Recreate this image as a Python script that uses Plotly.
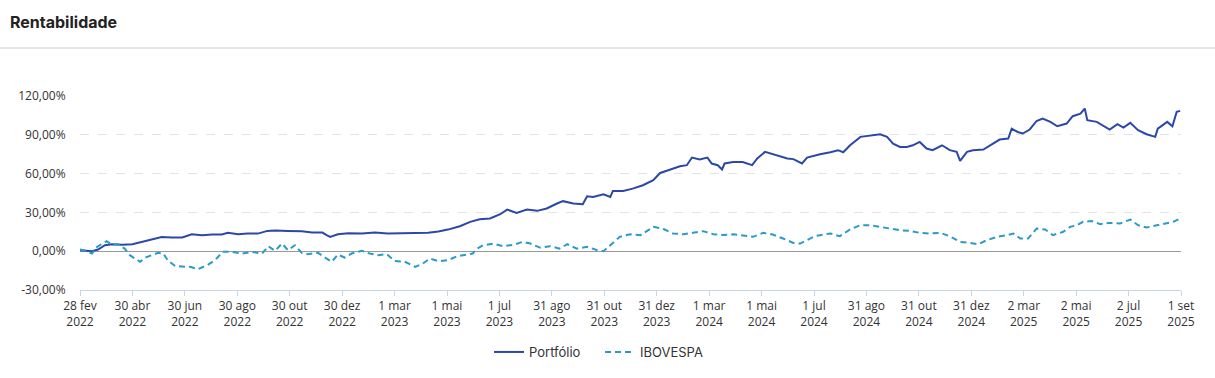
import plotly.graph_objects as go

# ---------------- data ----------------
portfolio_dates = [
    "2022-02-28", "2022-03-06", "2022-03-14", "2022-03-21", "2022-03-29", "2022-04-06", "2022-04-18", "2022-04-30",
    "2022-05-11", "2022-05-23", "2022-06-03", "2022-06-15", "2022-06-27", "2022-07-08", "2022-07-20", "2022-08-01",
    "2022-08-12", "2022-08-19", "2022-08-31", "2022-09-11", "2022-09-23", "2022-10-04", "2022-10-13", "2022-10-28",
    "2022-11-13", "2022-11-25", "2022-12-07", "2022-12-12", "2022-12-16", "2022-12-25", "2023-01-06", "2023-01-22",
    "2023-02-06", "2023-02-21", "2023-03-10", "2023-03-25", "2023-04-09", "2023-04-21", "2023-05-02", "2023-05-16",
    "2023-05-28", "2023-06-08", "2023-06-20", "2023-07-02", "2023-07-10", "2023-07-21", "2023-08-02", "2023-08-14",
    "2023-08-25", "2023-09-06", "2023-09-13", "2023-09-25", "2023-10-06", "2023-10-11", "2023-10-18", "2023-10-30",
    "2023-11-07", "2023-11-10", "2023-11-22", "2023-12-03", "2023-12-15", "2023-12-27", "2024-01-04", "2024-01-16",
    "2024-01-27", "2024-02-04", "2024-02-10", "2024-02-19", "2024-02-28", "2024-03-04", "2024-03-11", "2024-03-16",
    "2024-03-19", "2024-03-29", "2024-04-09", "2024-04-20", "2024-04-26", "2024-05-05", "2024-05-11", "2024-05-19",
    "2024-05-31", "2024-06-07", "2024-06-17", "2024-06-23", "2024-07-02", "2024-07-08", "2024-07-20", "2024-07-29",
    "2024-08-04", "2024-08-12", "2024-08-24", "2024-09-04", "2024-09-16", "2024-09-24", "2024-10-01", "2024-10-09",
    "2024-10-17", "2024-10-24", "2024-11-01", "2024-11-09", "2024-11-16", "2024-11-27", "2024-12-06", "2024-12-14",
    "2024-12-18", "2024-12-26", "2025-01-02", "2025-01-14", "2025-01-24", "2025-02-02", "2025-02-12", "2025-02-16",
    "2025-02-23", "2025-03-01", "2025-03-09", "2025-03-17", "2025-03-24", "2025-04-02", "2025-04-10", "2025-04-21",
    "2025-04-28", "2025-05-07", "2025-05-12", "2025-05-15", "2025-05-26", "2025-06-02", "2025-06-10", "2025-06-19",
    "2025-06-26", "2025-07-04", "2025-07-13", "2025-07-23", "2025-08-02", "2025-08-05", "2025-08-16", "2025-08-22",
    "2025-08-27", "2025-08-31",
]
portfolio_values = [
    0.8, 0.5, 0.0, 1.3, 4.6, 5.4, 5.0, 5.4,
    7.2, 9.0, 11.0, 10.6, 10.6, 13.1, 12.4, 12.9,
    12.9, 14.2, 13.1, 13.6, 13.6, 15.7, 16.0, 15.7,
    15.4, 14.4, 14.4, 12.4, 11.0, 13.1, 13.9, 13.6,
    14.4, 13.6, 13.9, 13.6, 14.2, 15.2, 16.7, 19.3,
    22.7, 24.7, 25.3, 28.6, 32.2, 29.6, 32.2, 31.2,
    33.0, 36.9, 38.7, 36.9, 36.3, 42.5, 42.0, 44.0,
    42.0, 46.6, 46.6, 48.4, 51.0, 54.9, 60.5, 63.2,
    65.7, 66.5, 72.4, 70.9, 72.4, 67.8, 66.5, 63.2,
    67.8, 69.0, 69.0, 66.5, 71.7, 76.8, 75.5, 74.2,
    71.7, 71.2, 67.8, 72.4, 74.2, 75.0, 76.5, 78.1,
    76.5, 81.9, 88.4, 89.1, 90.4, 88.4, 83.2, 80.6,
    80.6, 81.9, 84.5, 79.4, 78.1, 81.9, 78.1, 76.8,
    69.8, 76.8, 78.1, 78.6, 82.7, 86.3, 87.1, 94.8,
    92.2, 91.0, 94.1, 100.7, 102.6, 100.0, 96.6, 98.7,
    104.4, 106.4, 110.3, 101.3, 100.0, 97.4, 94.1, 98.2,
    95.6, 99.2, 93.5, 90.4, 88.4, 94.8, 100.0, 96.6,
    107.7, 108.5,
]

ibov_dates = [
    "2022-02-28", "2022-03-06", "2022-03-14", "2022-03-20", "2022-03-26", "2022-03-31", "2022-04-06", "2022-04-13",
    "2022-04-21", "2022-04-27", "2022-05-03", "2022-05-09", "2022-05-15", "2022-05-23", "2022-05-30", "2022-06-05",
    "2022-06-10", "2022-06-19", "2022-06-27", "2022-07-06", "2022-07-15", "2022-07-26", "2022-08-04", "2022-08-13",
    "2022-08-24", "2022-09-05", "2022-09-16", "2022-09-28", "2022-10-05", "2022-10-13", "2022-10-21", "2022-10-28",
    "2022-11-05", "2022-11-13", "2022-11-20", "2022-12-02", "2022-12-12", "2022-12-18", "2022-12-25", "2023-01-02",
    "2023-01-10", "2023-01-22", "2023-01-31", "2023-02-10", "2023-02-20", "2023-03-01", "2023-03-13", "2023-03-25",
    "2023-04-03", "2023-04-11", "2023-04-21", "2023-05-02", "2023-05-13", "2023-05-24", "2023-05-31", "2023-06-05",
    "2023-06-12", "2023-06-24", "2023-07-05", "2023-07-17", "2023-07-28", "2023-08-06", "2023-08-17", "2023-08-29",
    "2023-09-09", "2023-09-18", "2023-09-29", "2023-10-11", "2023-10-23", "2023-10-30", "2023-11-07", "2023-11-18",
    "2023-11-30", "2023-12-12", "2023-12-27", "2024-01-07", "2024-01-19", "2024-01-31", "2024-02-11", "2024-02-23",
    "2024-03-06", "2024-03-17", "2024-03-29", "2024-04-09", "2024-04-21", "2024-05-03", "2024-05-14", "2024-05-26",
    "2024-06-07", "2024-06-15", "2024-06-23", "2024-07-02", "2024-07-08", "2024-07-20", "2024-07-31", "2024-08-12",
    "2024-08-24", "2024-09-04", "2024-09-16", "2024-09-27", "2024-10-09", "2024-10-21", "2024-11-01", "2024-11-13",
    "2024-11-25", "2024-12-06", "2024-12-18", "2024-12-30", "2025-01-08", "2025-01-18", "2025-01-30", "2025-02-11",
    "2025-02-18", "2025-02-26", "2025-03-07", "2025-03-17", "2025-03-27", "2025-04-05", "2025-04-17", "2025-04-25",
    "2025-05-03", "2025-05-10", "2025-05-20", "2025-05-30", "2025-06-10", "2025-06-22", "2025-07-04", "2025-07-13",
    "2025-07-23", "2025-08-04", "2025-08-16", "2025-08-23", "2025-08-31",
]
ibov_values = [
    1.3, 0.3, -1.8, 3.4, 5.9, 7.7, 5.2, 5.4,
    2.0, -3.1, -5.7, -8.2, -4.9, -3.1, -1.3, -1.8,
    -7.0, -11.6, -12.1, -12.1, -13.9, -10.8, -7.0, -0.5,
    -0.5, -1.8, -0.5, -1.8, 3.9, 0.3, 5.9, 0.8,
    4.6, -1.3, -2.3, -1.3, -5.7, -8.2, -2.6, -4.9,
    -1.8, 0.3, -1.8, -3.1, -2.3, -7.5, -8.2, -12.1,
    -9.5, -5.7, -7.7, -7.0, -3.9, -2.6, -1.8, 2.0,
    4.6, 5.9, 3.9, 4.9, 7.2, 5.9, 2.8, 3.9,
    2.0, 5.4, 2.0, 3.4, 0.8, 0.0, 4.6, 11.1,
    13.1, 12.4, 18.8, 17.5, 13.7, 13.1, 14.2, 15.5,
    13.1, 12.6, 13.1, 12.4, 11.1, 14.2, 12.9, 9.8,
    6.4, 5.9, 8.5, 11.6, 12.4, 13.7, 11.6, 16.8,
    20.1, 20.1, 18.8, 17.5, 16.2, 15.7, 14.2, 13.7,
    14.2, 11.6, 7.2, 6.4, 5.4, 8.5, 11.1, 12.4,
    13.7, 9.8, 9.8, 17.5, 16.8, 12.4, 15.0, 18.8,
    20.1, 22.7, 23.4, 20.9, 21.9, 21.4, 24.5, 20.1,
    18.3, 20.1, 21.4, 22.7, 25.3,
]

x_tick_dates = [
    "2022-02-28", "2022-04-30", "2022-06-30", "2022-08-30", "2022-10-30", "2022-12-30", "2023-03-01",
    "2023-05-01", "2023-07-01", "2023-08-31", "2023-10-31", "2023-12-31", "2024-03-01", "2024-05-01",
    "2024-07-01", "2024-08-31", "2024-10-31", "2024-12-31", "2025-03-02", "2025-05-02", "2025-07-02",
    "2025-09-01",
]
x_tick_labels = [
    "28 fev<br>2022", "30 abr<br>2022", "30 jun<br>2022", "30 ago<br>2022", "30 out<br>2022", "30 dez<br>2022",
    "1 mar<br>2023", "1 mai<br>2023", "1 jul<br>2023", "31 ago<br>2023", "31 out<br>2023", "31 dez<br>2023",
    "1 mar<br>2024", "1 mai<br>2024", "1 jul<br>2024", "31 ago<br>2024", "31 out<br>2024", "31 dez<br>2024",
    "2 mar<br>2025", "2 mai<br>2025", "2 jul<br>2025", "1 set<br>2025",
]
y_tick_values = [-30, 0, 30, 60, 90, 120]
y_tick_labels = ["-30,00%", "0,00%", "30,00%", "60,00%", "90,00%", "120,00%"]

series_names = ["Portfólio", "IBOVESPA"]
title_text = "Rentabilidade"

# ---------------- figure ----------------
W, H = 1215, 378
ML, MR, MT, MB = 80, 34, 96, 88

fig = go.Figure()
fig.add_trace(go.Scatter(
    x=portfolio_dates, y=portfolio_values, name=series_names[0], mode="lines",
    line=dict(color="#2b48a8", width=2),
))
fig.add_trace(go.Scatter(
    x=ibov_dates, y=ibov_values, name=series_names[1], mode="lines",
    line=dict(color="#2a9bc4", width=2, dash="6px,4px"),
))

plot_w = W - ML - MR
plot_h = H - MT - MB

fig.update_layout(
    width=W, height=H,
    margin=dict(l=ML, r=MR, t=MT, b=MB, pad=0, autoexpand=False),
    paper_bgcolor="white", plot_bgcolor="white",
    title=dict(
        text="<b>" + title_text + "</b>",
        font=dict(family="Inter", size=16, color="#222222"),
        xref="container", x=10 / W, xanchor="left",
        yref="container", y=1 - 22 / H, yanchor="middle",
    ),
    showlegend=True,
    legend=dict(
        orientation="h",
        xref="container", x=489 / W, xanchor="left",
        yref="container", y=1 - 352 / H, yanchor="middle",
        font=dict(family="Inter", size=13, color="#333333"),
        itemwidth=30,
        entrywidth=66,
    ),
    xaxis=dict(
        type="date", automargin=False,
        range=["2022-02-28", "2025-09-01"],
        tickmode="array", tickvals=x_tick_dates, ticktext=x_tick_labels,
        showgrid=False, zeroline=False,
        showline=True, linecolor="#ccd6eb", linewidth=1,
        ticks="outside", ticklen=5, tickcolor="#ccd6eb",
        tickfont=dict(family="Open Sans", size=12, color="#333333"),
    ),
    yaxis=dict(
        range=[-30, 120], automargin=False,
        tickmode="array", tickvals=y_tick_values, ticktext=y_tick_labels,
        showgrid=True, gridcolor="#e3e3e3", griddash="dash", gridwidth=1,
        zeroline=True, zerolinecolor="#9a9a9a", zerolinewidth=1,
        showline=False,
        ticks="outside", ticklen=11, tickcolor="rgba(0,0,0,0)",
        tickfont=dict(family="Open Sans", size=12, color="#333333"),
    ),
    shapes=[dict(
        type="line", xref="paper", yref="paper",
        x0=-ML / plot_w, x1=(W - ML) / plot_w,
        y0=(H - MB - 48) / plot_h, y1=(H - MB - 48) / plot_h,
        line=dict(color="#cccccc", width=1),
    )],
)

fig.write_html(
    "out.html",
    config={"displayModeBar": False},
    post_script="document.body.style.margin='0';",
)
